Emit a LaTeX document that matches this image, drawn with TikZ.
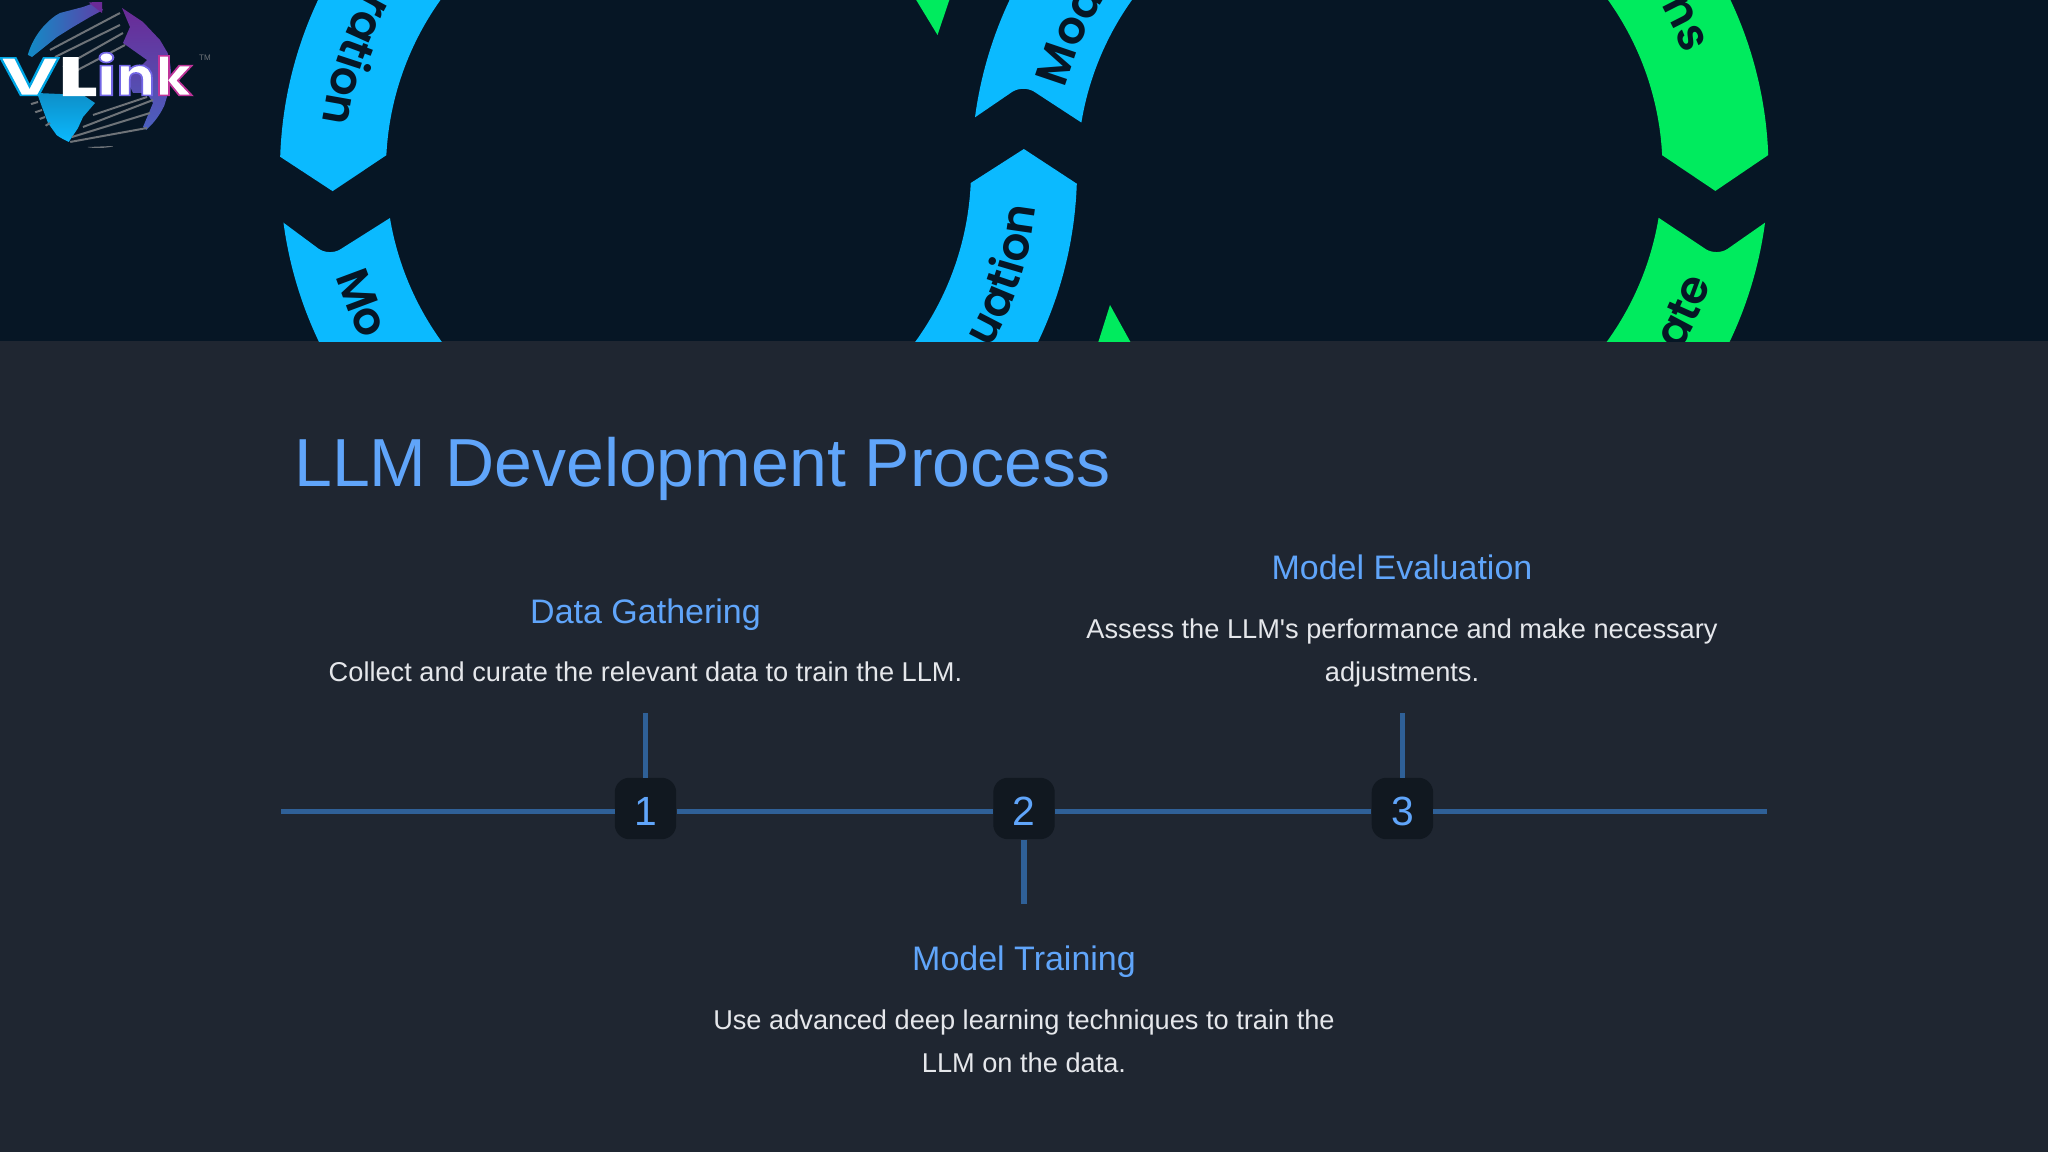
\documentclass[tikz,border=0pt]{standalone}
\usepackage{graphicx}
\usepackage{fontspec}
\usetikzlibrary{decorations.text}
\setmainfont{Liberation Sans}
\newfontfamily\arcfamily{Poppins SemiBold}
\newfontfamily\logofamily{Poppins}
\definecolor{pagebg}{HTML}{1F2631}
\definecolor{bandbg}{HTML}{061625}
\definecolor{arcblue}{HTML}{0BBAFF}
\definecolor{arcgreen}{HTML}{00EB5E}
\definecolor{headblue}{HTML}{60A5FA}
\definecolor{bodygrey}{HTML}{E5E7EB}
\definecolor{linkblue}{HTML}{2F6097}
\definecolor{badgebg}{HTML}{111820}
\definecolor{hatchgrey}{HTML}{6E7378}
\definecolor{globeteal}{HTML}{0D8FC8}
\definecolor{globeviolet}{HTML}{5F3FA8}
\definecolor{globepurple}{HTML}{6A2A96}
\definecolor{globeblue}{HTML}{4A62C0}
\newcommand{\arcfont}{\arcfamily\fontsize{34}{34}\selectfont\color{bandbg}}
\newcommand{\Ro}{298.9pt}
\newcommand{\Ri}{219.4pt}
\tikzset{
  title/.style={anchor=base west,text=headblue,inner sep=0pt,font=\fontsize{51}{60}\selectfont},
  head/.style={anchor=base,text=headblue,inner sep=0pt,font=\fontsize{25.5}{30}\selectfont},
  body/.style={align=center,text=bodygrey,inner sep=0pt,font=\fontsize{20.4}{32.6}\selectfont},
  stepbadge/.style={fill=badgebg,rounded corners=11pt,minimum size=46.1pt,inner sep=0pt,
    text=headblue,text height=26pt,text depth=0pt,font=\fontsize{30.6}{36}\selectfont},
  mainline/.style={draw=linkblue,line width=4.2pt},
  stemline/.style={draw=linkblue,line width=4pt},
  hatch/.style={draw=hatchgrey,line width=1.5pt}
}
\begin{document}
\begin{tikzpicture}[x=0.75pt,y=-0.75pt]
  \useasboundingbox (0,0) rectangle (2048,1152);
  \fill[pagebg] (0,0) rectangle (2048,1152);
  \fill[bandbg] (0,0) rectangle (2048,341);
  \begin{scope}
    \clip (0,0) rectangle (2048,341);
    % left ring
    \begin{scope}[shift={(678.5,170)}]
      \fill[arcblue] (120:\Ro) arc[start angle=120,end angle=178.1,radius=\Ro]
        -- (183.5:259.9pt) -- (177.1:\Ri) arc[start angle=177.1,end angle=120,radius=\Ri] -- cycle;
      \fill[arcblue] (240:\Ro) arc[start angle=240,end angle=187.6,radius=\Ro]
        [rounded corners=10pt] -- (193.9:270pt) [sharp corners] -- (189.45:\Ri)
        arc[start angle=189.45,end angle=240,radius=\Ri] -- cycle;
      \fill[arcblue] (-60:\Ro) arc[start angle=-60,end angle=-1.97,radius=\Ro]
        -- (3.48:259.5pt) -- (-2.55:\Ri) arc[start angle=-2.55,end angle=-60,radius=\Ri] -- cycle;
      \path[decorate,decoration={text along path,text={|\arcfont|ration},text align=right}]
        (120:269.25pt) arc[start angle=120,end angle=172.3,radius=269.25pt];
      \path[decorate,decoration={text along path,text={|\arcfont|Mo},text align=left}]
        (197.2:269.25pt) arc[start angle=197.2,end angle=240,radius=269.25pt];
      \path[decorate,decoration={text along path,text={|\arcfont|uation},text align=right}]
        (-60:269.25pt) arc[start angle=-60,end angle=-5.9,radius=269.25pt];
    \end{scope}
    % right ring
    \begin{scope}[shift={(1370,170)}]
      \fill[arcblue] (120:\Ro) arc[start angle=120,end angle=172.4,radius=\Ro]
        [rounded corners=10pt] -- (166.15:268pt) [sharp corners] -- (170.66:\Ri)
        arc[start angle=170.66,end angle=120,radius=\Ri] -- cycle;
      \fill[arcgreen] (60:\Ro) arc[start angle=60,end angle=2.15,radius=\Ro]
        -- (-3.47:259.5pt) -- (2.9:\Ri) arc[start angle=2.9,end angle=60,radius=\Ri] -- cycle;
      \fill[arcgreen] (-60:\Ro) arc[start angle=-60,end angle=-7.6,radius=\Ro]
        [rounded corners=10pt] -- (-14:268pt) [sharp corners] -- (-9.4:\Ri)
        arc[start angle=-9.4,end angle=-60,radius=\Ri] -- cycle;
      \path[decorate,decoration={text along path,text={|\arcfont|Mod},text align=left}]
        (165:237pt) arc[start angle=165,end angle=120,radius=237pt];
      \path[decorate,decoration={text along path,text={|\arcfont|ns},text align=right}]
        (60:251pt) arc[start angle=60,end angle=20.2,radius=251pt];
      \path[decorate,decoration={text along path,text={|\arcfont|ate},text align=right}]
        (-60:269.25pt) arc[start angle=-60,end angle=-18.2,radius=269.25pt];
    \end{scope}
    \fill[arcgreen] (915,-2) -- (950,-2) -- (937.5,35) -- cycle;
    \fill[arcgreen] (1098,343) -- (1131,343) -- (1110,305) -- cycle;
  \end{scope}
  % logo
  \begin{scope}
    \clip (98,75) circle[radius=54.75pt];
    \shade[left color=globeteal,right color=globeviolet]
      (24,53) -- (30,38) -- (43,23) -- (60,13) -- (83,7) -- (97,2) -- (103,10) -- (90,17)
      -- (73,27) -- (57,37) -- (47,45) -- (32,57) -- cycle;
    \fill[globepurple] (88,2) -- (102,0) -- (102,13) -- cycle;
    \shade[top color=globepurple,bottom color=globeblue]
      (122,8) -- (143,22) -- (160,40) -- (170,57) -- (172,80) -- (163,110) -- (150,133)
      -- (143,127) -- (153,103) -- (147,93) -- (133,93) -- (127,80) -- (147,60) -- (123,43)
      -- (130,27) -- cycle;
    \shade[top color=globeteal,bottom color=arcblue]
      (37,93) -- (83,95) -- (95,103) -- (83,117) -- (78,128) -- (68,143) -- (58,137)
      -- (48,123) -- (42,107) -- cycle;
    \foreach \xa/\ya/\xb/\yb in {50/50/120/13,55/57/120/25,63/67/123/33,72/73/125/45,
      70/142/147/128,72/137/150/113,83/127/153/100,93/115/147/97,
      28/105/38/102,33/113/42/110,37/120/45/117,42/128/50/123,88/148/113/147}
      \draw[hatch] (\xa,\ya) -- (\xb,\yb);
  \end{scope}
  \node[text=white,inner sep=0pt,xscale=1.27,font=\logofamily\bfseries\fontsize{40}{40}\selectfont] (logotext) at (96,74)
    {\special{pdf:code 2 Tr 1.2 w 0 .65 .9 RG}\scalebox{1.2}[1]{V}\scalebox{1.15}[1]{L}\special{pdf:code .45 .4 .9 RG}i\scalebox{.85}[1]{n}\special{pdf:code .75 .2 .6 RG}\scalebox{.88}[1]{k}\special{pdf:code 0 Tr}};
  \node[text=hatchgrey,inner sep=0pt,font=\fontsize{6}{6}\selectfont] (logomark) at (205,58) {TM};
  % text
  \node[title] (maintitle) at (294,486) {LLM Development Process};
  \node[head] (head1) at (645.5,623) {Data Gathering};
  \node[body] (body1) at (645.5,672) {Collect and curate the relevant data to train the LLM.};
  \node[head] (head2) at (1024,970) {Model Training};
  \node[body] (body2) at (1024,1041) {Use advanced deep learning techniques to train the\\LLM on the data.};
  \node[head] (head3) at (1402,579) {Model Evaluation};
  \node[body] (body3) at (1402,653) {Assess the LLM\textquotesingle s performance and make necessary\\adjustments.};
  % timeline
  \node[stepbadge] (step1) at (645.5,808.5) {1};
  \node[stepbadge] (step2) at (1024,808.5) {2};
  \node[stepbadge] (step3) at (1402.4,808.5) {3};
  \coordinate (lineL) at (281,811.5);
  \coordinate (lineR) at (1767,811.5);
  \coordinate (stub1) at (645.5,713);
  \coordinate (stub2) at (1024,904);
  \coordinate (stub3) at (1402.4,713);
  \draw[mainline] (lineL) -- (lineL -| step1.west);
  \draw[mainline] (lineL -| step1.east) -- (lineL -| step2.west);
  \draw[mainline] (lineL -| step2.east) -- (lineL -| step3.west);
  \draw[mainline] (lineL -| step3.east) -- (lineR);
  \draw[stemline] (step1) -- (stub1);
  \draw[stemline] (step2) -- (stub2);
  \draw[stemline] (step3) -- (stub3);
\end{tikzpicture}
\end{document}
